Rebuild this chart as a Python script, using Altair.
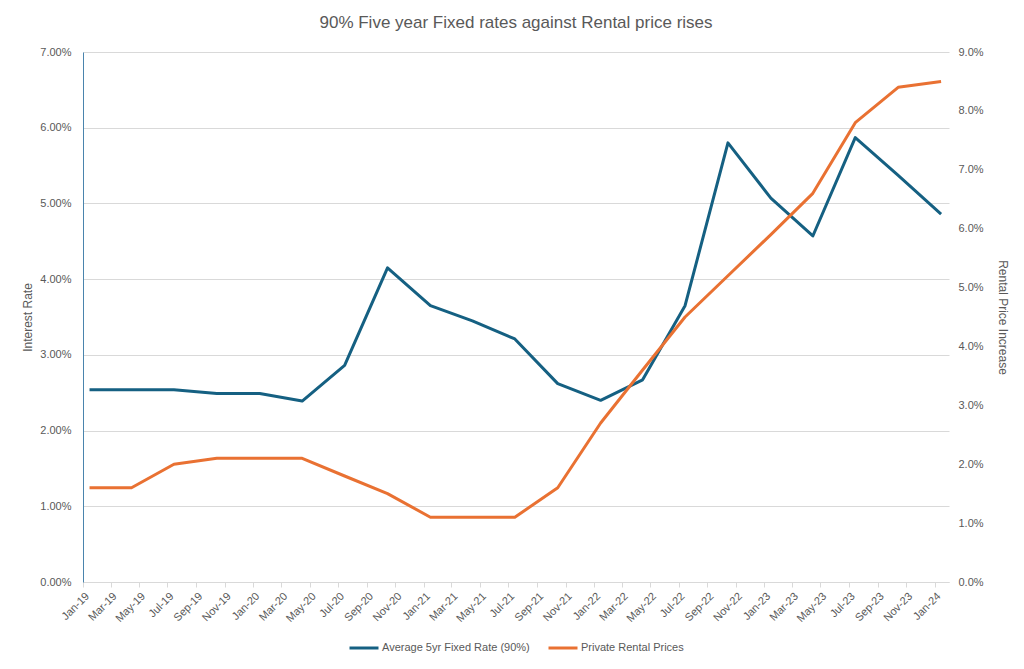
import altair as alt
import pandas as pd

# Quarterly observations (plotted mid-month)
dates = [
    "2019-01-15T00:00:00", "2019-04-15T00:00:00", "2019-07-15T00:00:00", "2019-10-15T00:00:00",
    "2020-01-15T00:00:00", "2020-04-15T00:00:00", "2020-07-15T00:00:00", "2020-10-15T00:00:00",
    "2021-01-15T00:00:00", "2021-04-15T00:00:00", "2021-07-15T00:00:00", "2021-10-15T00:00:00",
    "2022-01-15T00:00:00", "2022-04-15T00:00:00", "2022-07-15T00:00:00", "2022-10-15T00:00:00",
    "2023-01-15T00:00:00", "2023-04-15T00:00:00", "2023-07-15T00:00:00", "2023-10-15T00:00:00",
    "2024-01-15T00:00:00",
]
fixed_rate = [2.54, 2.54, 2.54, 2.49, 2.49, 2.39, 2.86, 4.15, 3.65, 3.45, 3.21,
              2.62, 2.40, 2.67, 3.65, 5.80, 5.07, 4.57, 5.87, 5.37, 4.86]
rental = [1.6, 1.6, 2.0, 2.1, 2.1, 2.1, 1.8, 1.5, 1.1, 1.1, 1.1,
          1.6, 2.7, 3.6, 4.5, 5.2, 5.9, 6.6, 7.8, 8.4, 8.5]

tick_labels = ["Jan-19", "Mar-19", "May-19", "Jul-19", "Sep-19", "Nov-19",
               "Jan-20", "Mar-20", "May-20", "Jul-20", "Sep-20", "Nov-20",
               "Jan-21", "Mar-21", "May-21", "Jul-21", "Sep-21", "Nov-21",
               "Jan-22", "Mar-22", "May-22", "Jul-22", "Sep-22", "Nov-22",
               "Jan-23", "Mar-23", "May-23", "Jul-23", "Sep-23", "Nov-23",
               "Jan-24"]
left_ticks = [0, 1, 2, 3, 4, 5, 6, 7]
right_ticks = [0, 1, 2, 3, 4, 5, 6, 7, 8, 9]

FIXED = "Average 5yr Fixed Rate (90%)"
RENTAL = "Private Rental Prices"
BLUE = "#156082"
ORANGE = "#E97132"
GREY = "#595959"
FONT = "Liberation Sans"

MONTHS = {"Jan": 1, "Feb": 2, "Mar": 3, "Apr": 4, "May": 5, "Jun": 6,
          "Jul": 7, "Aug": 8, "Sep": 9, "Oct": 10, "Nov": 11, "Dec": 12}
tick_dates = [alt.DateTime(year=2000 + int(t[4:]), month=MONTHS[t[:3]], date=1)
              for t in tick_labels]

df = pd.DataFrame({"date": dates, "fixed": fixed_rate, "rental": rental})

color_scale = alt.Scale(domain=[FIXED, RENTAL], range=[BLUE, ORANGE])

x_enc = alt.X(
    "date:T",
    title=None,
    scale=alt.Scale(domain=[alt.DateTime(year=2019, month=1, date=1),
                            alt.DateTime(year=2024, month=2, date=1)]),
    axis=alt.Axis(values=tick_dates, format="%b-%y", labelAngle=-45,
                  labelOverlap=False, labelFontSize=11,
                  grid=False, domainColor="#d9d9d9", tickColor="#d9d9d9",
                  tickSize=5, labelPadding=3),
)

legend = alt.Legend(orient="none", legendX=265, legendY=580, direction="horizontal",
                    title=None)

left = alt.Chart(df).transform_calculate(series=f"'{FIXED}'").mark_line(
    strokeWidth=3, strokeJoin="round"
).encode(
    x=x_enc,
    y=alt.Y("fixed:Q", scale=alt.Scale(domain=[0, 7]),
            axis=alt.Axis(orient="left", values=left_ticks, title="Interest Rate",
                          labelExpr="format(datum.value, '.2f') + '%'",
                          grid=True, gridColor="#d9d9d9", ticks=False,
                          domainColor="#4a84ad", labelPadding=12, titlePadding=5)),
    color=alt.Color("series:N", scale=color_scale, legend=legend),
)

right = alt.Chart(df).transform_calculate(series=f"'{RENTAL}'").mark_line(
    strokeWidth=3, strokeJoin="round"
).encode(
    x=x_enc,
    y=alt.Y("rental:Q", scale=alt.Scale(domain=[0, 9]),
            axis=alt.Axis(orient="right", values=right_ticks, title="Rental Price Increase",
                          labelExpr="format(datum.value, '.1f') + '%'",
                          grid=False, ticks=False, domain=False,
                          labelPadding=9, titlePadding=12)),
    color=alt.Color("series:N", scale=color_scale, legend=legend),
)

chart = alt.layer(left, right).resolve_scale(y="independent").properties(
    width=866,
    height=530,
    padding={"left": 21, "top": 14, "right": 12, "bottom": 5},
    title=alt.TitleParams("90% Five year Fixed rates against Rental price rises",
                          font=FONT, fontSize=17, fontWeight="normal", color=GREY,
                          anchor="middle", offset=14),
).configure_view(stroke=None).configure_axis(
    labelFont=FONT, labelColor=GREY, labelFontSize=11,
    titleFont=FONT, titleColor=GREY, titleFontSize=12, titleFontWeight="normal",
).configure_legend(
    symbolType="stroke", symbolStrokeWidth=3, symbolSize=841,
    labelFont=FONT, labelFontSize=11, labelColor=GREY, labelOffset=2,
    columnPadding=12, labelLimit=300,
)

chart.save("out.html", embed_options={"renderer": "svg", "actions": False})
